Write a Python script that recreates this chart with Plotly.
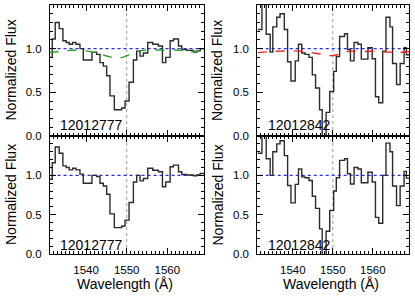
import plotly.graph_objects as go

# ---------------- data ----------------
# Top-left / bottom-left: object 12012777
tl_edges = [1531.0, 1531.65, 1532.39, 1533.37, 1534.28, 1535.10, 1535.84, 1536.67, 1537.49,
            1538.48, 1539.30, 1541.44, 1542.59, 1543.42, 1544.24, 1545.06, 1545.88, 1546.95,
            1548.77, 1549.59, 1550.58, 1551.65, 1552.47, 1553.29, 1554.12, 1555.19, 1556.42,
            1557.82, 1558.81, 1559.63, 1560.70, 1561.52, 1562.76, 1563.58, 1564.81, 1566.46,
            1567.28, 1568.11, 1569.1]
tl_flux = [0.90, 1.11, 1.30, 1.23, 1.09, 1.07, 1.05, 1.07, 1.05,
           1.00, 0.87, 0.96, 0.935, 0.84, 0.80, 0.69, 0.46,
           0.30, 0.32, 0.40, 0.615, 0.87, 0.97, 0.915, 0.95, 1.07,
           1.05, 1.03, 0.84, 0.90, 1.09, 1.11, 1.03, 0.99, 0.98,
           0.96, 0.975, 1.00]
bl_flux = [0.95, 1.16, 1.36, 1.28, 1.12, 1.10, 1.07, 1.09, 1.07,
           1.015, 0.90, 1.00, 0.985, 0.90, 0.865, 0.76, 0.51,
           0.335, 0.355, 0.43, 0.655, 0.915, 1.00, 0.93, 0.96, 1.09,
           1.065, 1.045, 0.855, 0.915, 1.11, 1.13, 1.045, 1.01, 1.005,
           0.995, 1.005, 1.025]
tl_model_wl = [1531.0, 1533.0, 1535.0, 1537.5, 1540.0, 1542.0, 1544.0, 1546.0, 1547.5,
               1549.0, 1550.5, 1552.0, 1554.0, 1556.0, 1558.0, 1560.0, 1562.0, 1564.0,
               1565.5, 1567.0, 1569.1]
tl_model = [0.955, 0.965, 0.975, 0.985, 0.975, 0.955, 0.93, 0.905, 0.895,
            0.90, 0.93, 0.96, 0.98, 0.985, 0.985, 0.985, 0.985, 0.975,
            0.965, 0.97, 0.98]

# Top-right / bottom-right: object 12012842
tr_edges = [1531.2, 1532.26, 1533.33, 1534.32, 1534.98, 1535.97, 1536.79, 1537.86, 1538.68,
            1539.51, 1540.58, 1541.40, 1542.22, 1543.05, 1544.03, 1544.86, 1545.68, 1546.67,
            1547.33, 1548.31, 1549.22, 1550.21, 1550.86, 1551.69, 1552.92, 1553.66, 1554.40,
            1555.31, 1556.30, 1557.12, 1558.77, 1559.84, 1560.66, 1561.48, 1562.47, 1563.29,
            1564.28, 1564.94, 1565.93, 1566.83, 1567.82, 1568.40, 1569.1]
tr_flux = [1.22, 1.75, 1.165, 0.96, 1.25, 1.36, 1.40, 1.22, 0.85,
           0.63, 0.86, 1.05, 0.95, 0.935, 0.90, 0.70, 0.55, 0.30,
           -0.02, 0.27, 0.51, 0.74, 0.91, 1.14, 1.17, 0.99, 0.86,
           1.07, 1.05, 0.88, 1.01, 0.885, 0.45, 0.38, 0.97, 1.36,
           1.25, 0.83, 0.59, 0.83, 1.01, 0.93]
br_flux = [1.28, 1.80, 1.21, 1.00, 1.30, 1.40, 1.44, 1.25, 0.87,
           0.65, 0.885, 1.08, 0.98, 0.97, 0.935, 0.735, 0.58, 0.32,
           -0.02, 0.29, 0.555, 0.80, 0.97, 1.19, 1.21, 1.02, 0.89,
           1.10, 1.08, 0.905, 1.04, 0.915, 0.465, 0.39, 1.00, 1.41,
           1.30, 0.865, 0.615, 0.865, 1.05, 0.965]
tr_model_wl = [1531.2, 1534.0, 1537.0, 1540.0, 1543.0, 1546.0, 1548.0, 1549.5, 1551.0,
               1553.0, 1555.0, 1558.0, 1561.0, 1564.0, 1566.0, 1569.1]
tr_model = [0.955, 0.965, 0.972, 0.975, 0.965, 0.945, 0.93, 0.92, 0.93,
            0.96, 0.972, 0.968, 0.972, 0.96, 0.958, 0.965]

labels = ["12012777", "12012842"]
x_ticks = [1540, 1550, 1560]
y_ticks = [0.0, 0.5, 1.0]
line_wl = 1550

# ---------------- figure ----------------
FONT = "Liberation Sans, Arial, sans-serif"
W, H = 415, 297

def px_x(p):
    return p / W

def px_y(p):
    return (H - p) / H

xl = [px_x(50), px_x(204)]
xr = [px_x(257.3), px_x(409)]
yt = [px_y(136), px_y(5)]
yb = [px_y(254), px_y(136)]

fig = go.Figure()

panels = [
    # (xaxis id, yaxis id, edges, flux, model wl, model, model colour)
    ("x", "y", tl_edges, tl_flux, tl_model_wl, tl_model, "#2fa52f"),
    ("x2", "y2", tr_edges, tr_flux, tr_model_wl, tr_model, "#f02020"),
    ("x3", "y3", tl_edges, bl_flux, None, None, None),
    ("x4", "y4", tr_edges, br_flux, None, None, None),
]

for xa, ya, edges, flux, mwl, mod, mcol in panels:
    fig.add_trace(go.Scatter(x=[edges[0] - 1, edges[-1] + 1], y=[1.0, 1.0], mode="lines",
                             line=dict(color="#2a2af0", width=1.2, dash="dot"),
                             xaxis=xa, yaxis=ya, showlegend=False, hoverinfo="skip"))
    fig.add_trace(go.Scatter(x=edges, y=list(flux) + [flux[-1]], mode="lines",
                             line=dict(color="#2b2b2b", width=1.4, shape="hv"),
                             xaxis=xa, yaxis=ya, showlegend=False, hoverinfo="skip"))
    if mod is not None:
        fig.add_trace(go.Scatter(x=mwl, y=mod, mode="lines",
                                 line=dict(color=mcol, width=1.4, dash="dash", shape="spline"),
                                 xaxis=xa, yaxis=ya, showlegend=False, hoverinfo="skip"))
    fig.add_shape(type="line", xref=xa, yref=ya + " domain", x0=line_wl, x1=line_wl, y0=0, y1=1,
                  line=dict(color="#9a9a9a", width=1, dash="dot"), layer="below")

XR = [1531.1, 1569.05]
YR = [0.0, 1.5]
minor_x = [v for v in range(1532, 1569) if v not in x_ticks]
minor_y = [round(0.1 * i, 1) for i in range(0, 16) if round(0.1 * i, 1) not in (0.0, 0.5, 1.0, 1.5)]

def xaxis(domain, anchor, labels_on):
    return dict(domain=domain, anchor=anchor, range=XR, showgrid=False, zeroline=False,
                showline=True, linecolor="black", linewidth=1, mirror="allticks",
                ticks="inside", ticklen=6, tickwidth=1, tickcolor="black",
                tickmode="array", tickvals=x_ticks, ticktext=[str(v) for v in x_ticks],
                showticklabels=labels_on, ticklabelstandoff=5,
                tickfont=dict(family=FONT, size=11.5, color="black"),
                minor=dict(tickmode="array", tickvals=minor_x, ticks="inside", ticklen=3,
                           tickwidth=1, tickcolor="black", showgrid=False),
                automargin=False)

def yaxis(domain, anchor):
    return dict(domain=domain, anchor=anchor, range=YR, showgrid=False, zeroline=False,
                showline=True, linecolor="black", linewidth=1, mirror="allticks",
                ticks="inside", ticklen=6, tickwidth=1, tickcolor="black",
                tickmode="array", tickvals=y_ticks, ticktext=["%.1f" % v for v in y_ticks],
                ticklabelstandoff=5,
                tickfont=dict(family=FONT, size=11.5, color="black"),
                minor=dict(tickmode="array", tickvals=minor_y, ticks="inside", ticklen=3,
                           tickwidth=1, tickcolor="black", showgrid=False),
                automargin=False)

fig.update_layout(
    width=W, height=H, margin=dict(l=0, r=0, t=0, b=0),
    paper_bgcolor="white", plot_bgcolor="white", showlegend=False,
    xaxis=xaxis(xl, "y", False), yaxis=yaxis(yt, "x"),
    xaxis2=xaxis(xr, "y2", False), yaxis2=yaxis(yt, "x2"),
    xaxis3=xaxis(xl, "y3", True), yaxis3=yaxis(yb, "x3"),
    xaxis4=xaxis(xr, "y4", True), yaxis4=yaxis(yb, "x4"),
)

ann = []
tfont = dict(family=FONT, size=14, color="black")
for xc in (px_x(11), px_x(217.5)):
    for yc in (px_y(70.5), px_y(195)):
        ann.append(dict(text="Normalized Flux", x=xc, y=yc, xref="paper", yref="paper",
                        textangle=-90, showarrow=False, font=tfont,
                        xanchor="center", yanchor="middle"))
for xc in (px_x(125), px_x(331)):
    ann.append(dict(text="Wavelength (Å)", x=xc, y=px_y(284), xref="paper", yref="paper",
                    showarrow=False, font=tfont, xanchor="center", yanchor="middle"))
for xl0, lab in ((px_x(58), labels[0]), (px_x(265.5), labels[1])):
    for yc in (px_y(125), px_y(244.5)):
        ann.append(dict(text=lab, x=xl0, y=yc, xref="paper", yref="paper", showarrow=False,
                        font=tfont, xanchor="left", yanchor="middle"))
fig.update_layout(annotations=ann)

fig.write_html("out.html", config={"displayModeBar": False},
               post_script="document.body.style.margin='0';")
